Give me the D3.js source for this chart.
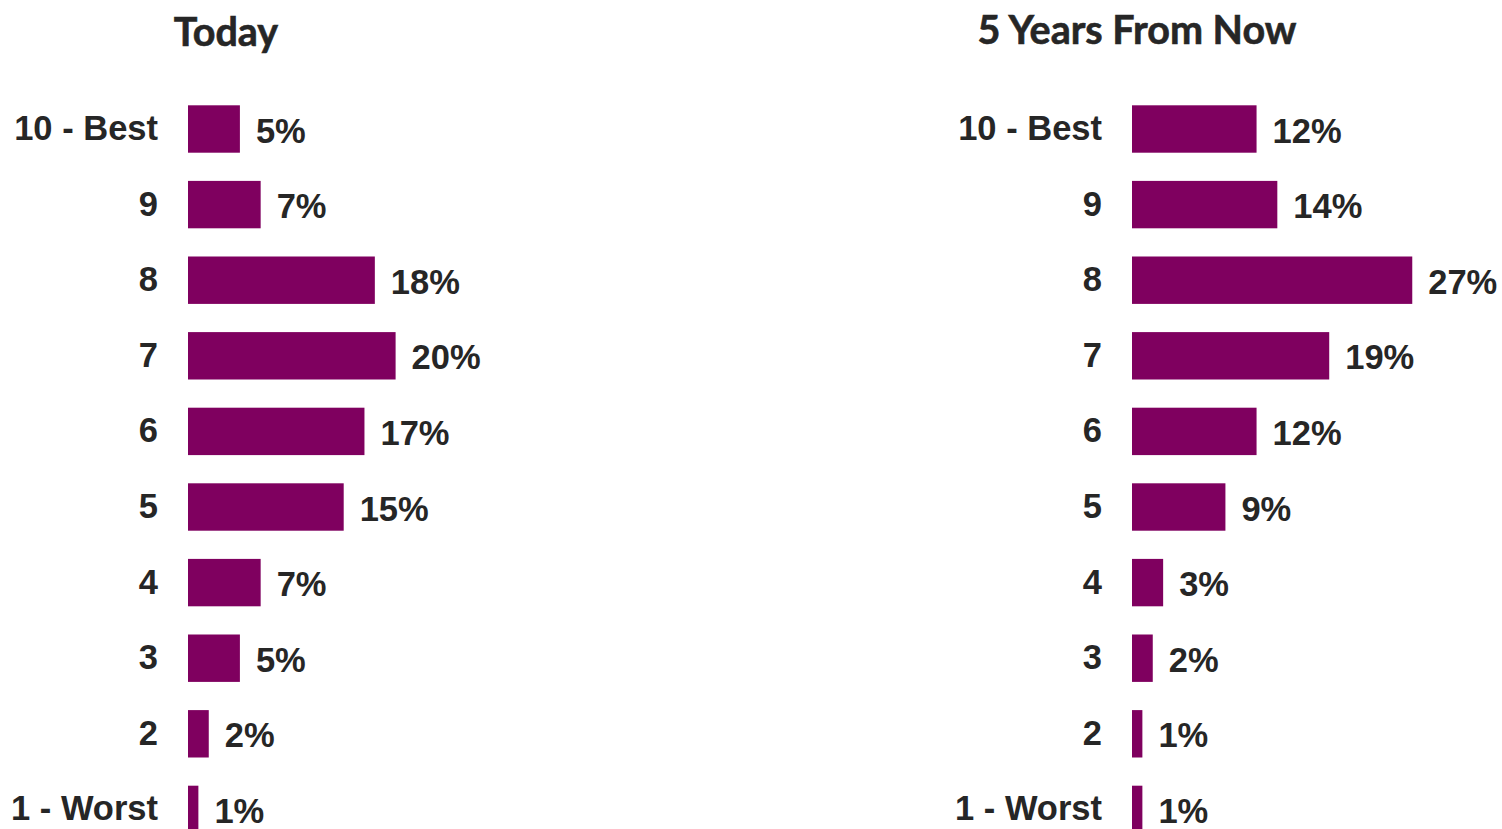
<!DOCTYPE html>
<html>
<head>
<meta charset="utf-8">
<script src="https://cdn.jsdelivr.net/npm/d3@7"></script>
<style>
  html, body { margin: 0; padding: 0; background: #ffffff; }
  svg { display: block; }
</style>
</head>
<body>
<svg id="chart" width="1502" height="829"></svg>
<script>
const categories = ["10 - Best", "9", "8", "7", "6", "5", "4", "3", "2", "1 - Worst"];
const todayValues = [5, 7, 18, 20, 17, 15, 7, 5, 2, 1];
const futureValues = [12, 14, 27, 19, 12, 9, 3, 2, 1, 1];
const panelTitles = ["Today", "5 Years From Now"];

const svg = d3.select("#chart");
const barColor = "#7f005f";
const textColor = "#262626";

const y = d3.scaleBand()
  .domain(categories)
  .range([105.3, 105.3 + 75.6 * (10 - 0.373)])
  .paddingInner(0.373)
  .paddingOuter(0);

const x = d3.scaleLinear().domain([0, 30]).range([0, 311.4]);

const panels = [
  { title: panelTitles[0], values: todayValues, barX: 188, titleX: 226, titleY: 46 },
  { title: panelTitles[1], values: futureValues, barX: 1132, titleX: 1137, titleY: 44 }
];

panels.forEach(p => {
  const g = svg.append("g").attr("transform", `translate(${p.barX},0)`);

  svg.append("text")
    .attr("x", p.titleX)
    .attr("y", p.titleY)
    .attr("text-anchor", "middle")
    .attr("font-family", "Lato, 'Open Sans', sans-serif")
    .attr("font-weight", "bold")
    .attr("font-size", 39.5)
    .attr("fill", textColor)
    .attr("stroke", textColor)
    .attr("stroke-width", 0.6)
    .text(p.title);

  const axis = d3.axisLeft(y).tickSize(0).tickPadding(30);
  const ax = g.append("g").call(axis);
  ax.select(".domain").remove();
  ax.selectAll("text")
    .attr("font-family", "'Liberation Sans', Arial, sans-serif")
    .attr("font-weight", "bold")
    .attr("font-size", 34.5)
    .attr("fill", textColor)
    .attr("dy", null)
    .attr("y", 11);

  const data = categories.map((c, i) => ({ c, v: p.values[i] }));

  g.selectAll("rect.bar")
    .data(data)
    .join("rect")
    .attr("class", "bar")
    .attr("x", 0)
    .attr("y", d => y(d.c))
    .attr("width", d => x(d.v))
    .attr("height", y.bandwidth())
    .attr("fill", barColor);

  g.selectAll("text.val")
    .data(data)
    .join("text")
    .attr("class", "val")
    .attr("x", d => x(d.v) + 16)
    .attr("y", d => y(d.c) + y.bandwidth() / 2 + 13.5)
    .attr("font-family", "'Liberation Sans', Arial, sans-serif")
    .attr("font-weight", "bold")
    .attr("font-size", 34.5)
    .attr("fill", textColor)
    .text(d => d.v + "%");
});
</script>
</body>
</html>
